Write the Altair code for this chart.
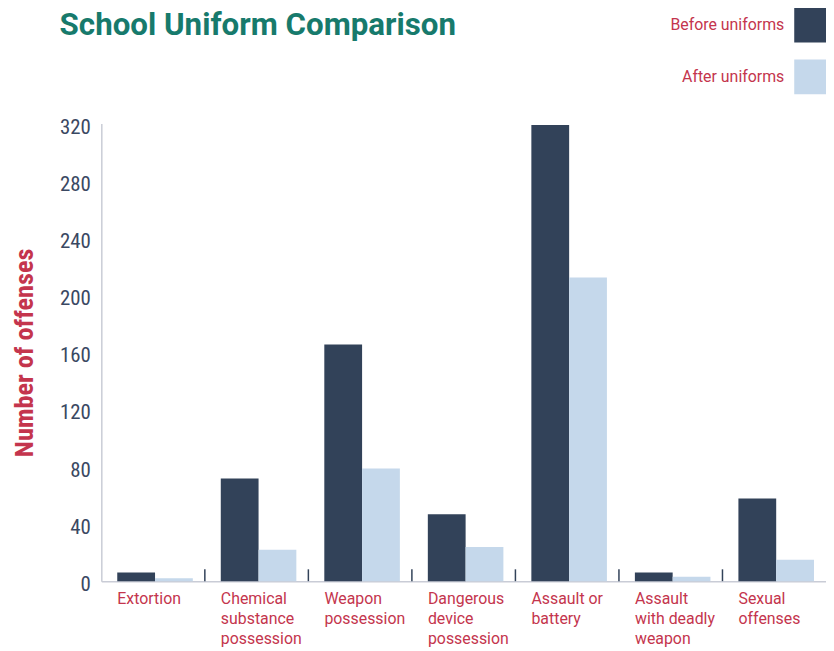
import altair as alt
import pandas as pd

categories = [
    "Extortion",
    "Chemical\nsubstance\npossession",
    "Weapon\npossession",
    "Dangerous\ndevice\npossession",
    "Assault or\nbattery",
    "Assault\nwith deadly\nweapon",
    "Sexual\noffenses",
]
periods = ["Before uniforms", "After uniforms"]
before = [6, 72, 166, 47, 320, 6, 58]
after = [2, 22, 79, 24, 213, 3, 15]
y_ticks = [0, 40, 80, 120, 160, 200, 240, 280, 320]
chart_title = "School Uniform Comparison"

rows = []
for c, b, a in zip(categories, before, after):
    rows.append({"category": c, "period": periods[0], "offenses": b})
    rows.append({"category": c, "period": periods[1], "offenses": a})
df = pd.DataFrame(rows)
sep_df = pd.DataFrame({"category": categories[1:], "y0": [0] * 6, "y1": [8.3] * 6})

NARROW = "'Liberation Sans Narrow', 'Roboto Condensed', Roboto, sans-serif"
FONT = "Roboto, 'Liberation Sans', sans-serif"
RED = "#c4354d"
NAVY = "#324259"
LIGHT = "#c5d8eb"
TEAL = "#177a6c"

xscale = alt.Scale(domain=categories, paddingInner=0, paddingOuter=0)
yscale = alt.Scale(domain=[0, 321], nice=False)

bars = alt.Chart(df).mark_bar().encode(
    x=alt.X(
        "category:N",
        scale=xscale,
        sort=categories,
        axis=alt.Axis(
            title=None,
            ticks=False,
            domainColor="#c9ccd6",
            domainWidth=1.5,
            labelAlign="left",
            labelBaseline="top",
            labelOffset={"expr": "-36"},
            labelPadding=10,
            labelFontSize=16,
            labelLineHeight=20,
            labelColor=RED,
            labelFont=FONT,
            labelBound=False,
            labelOverlap=False,
            labelAngle=0,
            labelExpr="split(datum.label, '\\n')",
        ),
    ),
    xOffset=alt.XOffset(
        "period:N",
        sort=periods,
        scale=alt.Scale(domain=periods, paddingInner=0, paddingOuter=0.37, align=0.57),
    ),
    y=alt.Y(
        "offenses:Q",
        scale=yscale,
        axis=alt.Axis(
            title="Number of offenses",
            titleColor=RED,
            titleFontSize=26.5,
            titleFontWeight="bold",
            titleFont=NARROW,
            titlePadding=21,
            values=y_ticks,
            ticks=False,
            grid=False,
            domainColor="#c9ccd6",
            domainWidth=1.5,
            labelFontSize=21,
            labelFont=NARROW,
            labelColor="#3a4862",
            labelPadding=11,
            labelOffset=3,
        ),
    ),
    color=alt.Color(
        "period:N",
        sort=periods,
        scale=alt.Scale(domain=periods, range=[NAVY, LIGHT]),
        legend=alt.Legend(
            title=chart_title,
            titleOrient="left",
            titleAnchor="start",
            titleBaseline="line-top",
            titleLineHeight=42,
            titleAlign="left",
            titleColor=TEAL,
            titleFontSize=31.5,
            titleFontWeight="bold",
            titleFont=FONT,
            titlePadding=340,
            titleLimit=0,
            orient="none",
            legendX=-42,
            legendY=-119,
            symbolType="M-1,-0.875H1V0.875H-1Z",
            symbolSize=1600,
            symbolStrokeWidth=0,
            symbolOpacity=1,
            labelAlign="right",
            labelOffset={"expr": "-50"},
            rowPadding=14,
            labelFontSize=16,
            labelFont=FONT,
            labelColor=RED,
            padding=0,
        ),
    ),
)

seps = alt.Chart(sep_df).mark_rule(color=NAVY, strokeWidth=1.5).encode(
    x=alt.X("category:N", scale=xscale, sort=categories, bandPosition=0),
    y=alt.Y("y0:Q", scale=yscale),
    y2="y1:Q",
)

chart = (
    alt.layer(bars, seps)
    .properties(
        width=730,
        height=461,
        padding={"left": 94, "top": 114, "right": 0, "bottom": 66},
        autosize=alt.AutoSizeParams(type="none"),
        background="white",
    )
    .configure_view(stroke=None)
)

chart.save("out.html", embed_options={"renderer": "svg", "actions": False})
